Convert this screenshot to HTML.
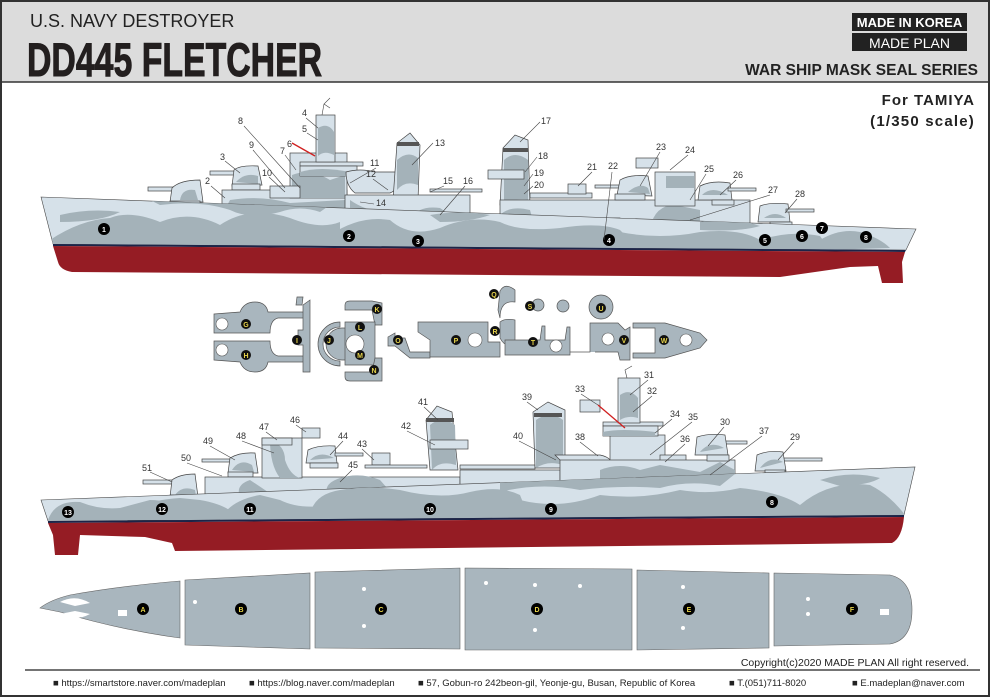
<!DOCTYPE html>
<html><head><meta charset="utf-8"><style>
html,body{margin:0;padding:0;background:#fff}
svg{display:block}
text{font-family:"Liberation Sans",sans-serif}
.l{font-size:9px;fill:#333}
.ln{stroke:#444;stroke-width:.6;fill:none}
.s{fill:#d6e1e9;stroke:#444;stroke-width:.7}
.g{fill:#a4b2b9}
.p{fill:#a9b6be;stroke:#555;stroke-width:.7}
.h{fill:#fff;stroke:#555;stroke-width:.6}
.m{font-size:7px;font-weight:bold;fill:#e8d44a;text-anchor:middle}
.w{font-size:7px;font-weight:bold;fill:#fff;text-anchor:middle}
</style></head><body>
<svg width="990" height="697" viewBox="0 0 990 697" xmlns="http://www.w3.org/2000/svg">
<rect x="0" y="0" width="990" height="697" fill="#fff"/>
<rect x="1" y="1" width="988" height="81" fill="#dcdcdc"/>
<line x1="0" y1="82" x2="990" y2="82" stroke="#333" stroke-width="1.5"/>
<text x="30" y="27" font-size="18" fill="#222">U.S. NAVY DESTROYER</text>
<text x="27" y="76" font-size="47" font-weight="bold" fill="#231f1f" stroke="#231f1f" stroke-width="1" transform="translate(27 0) scale(0.72 1) translate(-27 0)">DD445 FLETCHER</text>
<rect x="852" y="13" width="115" height="18" fill="#222"/>
<text x="909.5" y="27" font-size="13" font-weight="bold" fill="#fff" text-anchor="middle">MADE IN KOREA</text>
<rect x="852" y="33" width="115" height="18" fill="#222"/>
<text x="909.5" y="48" font-size="14" fill="#fff" text-anchor="middle">MADE PLAN</text>
<text x="978" y="75" font-size="15.5" font-weight="bold" fill="#222" text-anchor="end">WAR SHIP MASK SEAL SERIES</text>
<text x="975" y="105" font-size="15" font-weight="bold" fill="#222" text-anchor="end" letter-spacing="1">For  TAMIYA</text>
<text x="975" y="126" font-size="15" font-weight="bold" fill="#222" text-anchor="end" letter-spacing="1.2">(1/350 scale)</text>

<defs>
<clipPath id="c1"><polygon points="41,197 916,229 906,250 53,244"/></clipPath>
<clipPath id="c2"><polygon points="41,500 915,467 904,515 48,521"/></clipPath>
</defs>
<g>
<rect x="148" y="187" width="30" height="4" class="s"/>
<path d="M170,202 L172,188 Q180,180 200,180 L203,202Z" class="s"/><path d="M180,200 Q182,188 195,190 L198,200Z" class="g"/>
<rect x="170" y="201" width="30" height="4" class="s"/>
<rect x="210" y="171" width="26" height="4" class="s"/>
<path d="M232,186 L234,170 Q240,165 258,166 L262,185Z" class="s"/><path d="M236,182 Q245,172 258,176 L258,184Z" class="g"/>
<rect x="232" y="184" width="28" height="6" class="s"/>
<rect x="222" y="190" width="125" height="26" class="s"/>
<path d="M230,200 Q260,195 290,203 L345,200 L345,215 L222,215Z" class="g"/>
<rect x="290" y="153" width="57" height="45" class="s"/>
<path d="M292,175 Q310,168 330,180 L345,175 L345,198 L292,198Z" class="g"/>
<rect x="270" y="186" width="30" height="12" class="s"/>
<rect x="300" y="162" width="63" height="4" class="s"/>
<rect x="300" y="166" width="57" height="10" class="s"/>
<path d="M300,172 Q320,166 350,172 L350,176 L300,176Z" class="g"/>
<rect x="316" y="115" width="19" height="47" class="s"/>
<path d="M318,128 Q328,122 334,132 L334,155 Q324,150 318,156Z" class="g"/>
<path d="M322,115 L324,104 L330,98 M324,104 L330,108" class="ln" stroke-width="1.5"/>
<path d="M346,172 Q360,168 375,172 L400,172 Q402,188 390,193 L355,193 Q346,186 346,172Z" class="s"/>
<path d="M393,200 L397,143 L410,133 L420,145 L418,200Z" class="s"/>
<path d="M397,160 Q408,150 418,158 L418,185 Q405,180 397,190Z" class="g"/>
<rect x="397" y="142" width="22" height="4" fill="#555"/>
<rect x="345" y="195" width="125" height="23" class="s"/>
<path d="M350,200 Q370,214 395,212 L395,218 L350,218Z" class="g"/>
<path d="M410,218 Q420,205 440,208 L455,218Z" class="g"/>
<rect x="430" y="189" width="52" height="3" class="s"/>
<path d="M500,205 L503,148 L515,135 L528,140 L530,205Z" class="s"/>
<path d="M504,160 Q515,150 528,160 L528,200 Q515,198 504,205Z" class="g"/>
<rect x="503" y="148" width="25" height="4" fill="#555"/>
<rect x="488" y="170" width="36" height="9" class="s"/>
<rect x="530" y="193" width="62" height="5" class="s"/>
<rect x="568" y="184" width="18" height="10" class="s"/>
<rect x="595" y="185" width="25" height="3" class="s"/>
<rect x="500" y="200" width="250" height="28" class="s"/>
<path d="M500,215 Q510,205 530,210 L535,228 L500,228Z" class="g"/>
<path d="M650,228 Q655,205 675,205 L700,210 L700,228Z" class="g"/>
<rect x="570" y="218" width="50" height="6" class="s"/>
<path d="M617,195 L620,180 Q630,174 648,176 L652,196Z" class="s"/><path d="M628,192 Q640,182 648,188 L650,194Z" class="g"/>
<rect x="615" y="194" width="30" height="6" class="s"/>
<rect x="655" y="172" width="40" height="34" class="s"/>
<rect x="666" y="176" width="28" height="12" class="g"/>
<rect x="636" y="158" width="22" height="10" class="s"/>
<path d="M698,200 L700,186 Q712,180 730,183 L732,200Z" class="s"/><path d="M702,195 Q712,185 728,195Z" class="g"/>
<rect x="728" y="188" width="28" height="3" class="s"/>
<rect x="712" y="200" width="22" height="5" class="s"/>
<path d="M758,222 L760,206 Q770,202 788,204 L790,222Z" class="s"/><path d="M764,218 Q775,210 786,218Z" class="g"/>
<rect x="786" y="209" width="28" height="3" class="s"/>
<rect x="770" y="222" width="22" height="4" class="s"/>
</g>
<polygon points="41,197 916,229 906,250 53,244" fill="#d6e1e9" stroke="#444" stroke-width=".6"/>
<g clip-path="url(#c1)" class="g">
<path d="M50,240 Q80,220 110,218 Q130,210 160,222 Q190,210 220,225 Q250,205 290,218 Q320,230 340,222 L340,250 L50,250Z"/>
<path d="M330,235 Q360,215 390,220 Q410,238 440,228 Q470,215 500,222 Q520,232 560,228 Q600,222 620,230 L640,250 L330,250Z"/>
<path d="M560,245 Q590,228 620,232 Q660,240 700,232 Q740,228 760,240 Q790,230 820,236 L830,250 L560,250Z"/>
<path d="M820,240 Q840,228 860,232 Q880,238 890,248 L820,250Z"/>
<path d="M60,215 Q90,208 120,212 Q100,222 60,222Z"/>
<path d="M160,205 Q200,200 230,210 Q250,220 280,212 Q300,205 320,212 L330,205 L150,200Z"/>
<path d="M430,215 Q460,210 490,215 Q470,222 440,222Z"/>
<path d="M700,222 Q730,215 760,226 Q740,232 700,230Z"/>
</g>
<polygon points="53,244 906,250 905,252 53,246" fill="#1c2448"/>
<path d="M53,246 L905,252 L902,262 L903,283 L882,283 L878,266 L850,267 L780,277 L72,272 Q60,270 58,262Z" fill="#951c24"/>
<g>
<circle cx="104" cy="229" r="6"/><text x="104" y="232" class="w">1</text>
<circle cx="349" cy="236" r="6"/><text x="349" y="239" class="w">2</text>
<circle cx="418" cy="241" r="6"/><text x="418" y="244" class="w">3</text>
<circle cx="609" cy="240" r="6"/><text x="609" y="243" class="w">4</text>
<circle cx="765" cy="240" r="6"/><text x="765" y="243" class="w">5</text>
<circle cx="802" cy="236" r="6"/><text x="802" y="239" class="w">6</text>
<circle cx="822" cy="228" r="6"/><text x="822" y="231" class="w">7</text>
<circle cx="866" cy="237" r="6"/><text x="866" y="240" class="w">8</text>
</g>
<g class="l">
<text x="238" y="124">8</text><text x="249" y="148">9</text><text x="220" y="160">3</text><text x="205" y="184">2</text>
<text x="262" y="176">10</text><text x="302" y="116">4</text><text x="302" y="132">5</text><text x="287" y="147">6</text><text x="280" y="154">7</text>
<text x="370" y="166">11</text><text x="366" y="177">12</text><text x="435" y="146">13</text><text x="376" y="206">14</text>
<text x="443" y="184">15</text><text x="463" y="184">16</text><text x="541" y="124">17</text><text x="538" y="159">18</text>
<text x="534" y="176">19</text><text x="534" y="188">20</text><text x="587" y="170">21</text><text x="608" y="169">22</text>
<text x="656" y="150">23</text><text x="685" y="153">24</text><text x="704" y="172">25</text><text x="733" y="178">26</text>
<text x="768" y="193">27</text><text x="795" y="197">28</text>
</g>
<g class="ln">
<path d="M244,126 L300,188"/><path d="M253,150 L285,188"/><path d="M225,161 L240,173"/><path d="M211,186 L225,198"/>
<path d="M269,177 L285,192"/><path d="M306,118 L318,128"/><path d="M307,133 L318,140"/><path d="M285,155 L296,170"/>
<path d="M376,168 L350,183"/><path d="M373,179 L388,190"/><path d="M433,143 L412,165"/><path d="M374,204 L360,202"/>
<path d="M444,186 L430,192"/><path d="M465,186 L440,215"/><path d="M540,122 L520,142"/><path d="M537,157 L525,172"/>
<path d="M533,174 L524,186"/><path d="M533,186 L524,194"/><path d="M592,172 L578,186"/><path d="M612,172 L604,240"/>
<path d="M660,152 L640,186"/><path d="M688,155 L670,170"/><path d="M706,174 L690,200"/><path d="M736,180 L720,195"/>
<path d="M770,195 L690,220"/><path d="M797,199 L785,213"/>
</g>
<path d="M292,143 L315,156" stroke="#d02020" stroke-width="1.3"/>

<g>
<path d="M214,314 L240,312 Q244,302 255,302 Q266,302 268,312 L305,312 L305,318 L278,318 Q270,320 270,333 L214,333Z" class="p"/>
<circle cx="222" cy="324" r="6" class="h"/>
<path d="M214,341 L270,341 Q270,354 278,356 L305,356 L305,362 L268,362 Q266,372 255,372 Q244,372 240,362 L214,360Z" class="p"/>
<circle cx="222" cy="350" r="6" class="h"/>
<path d="M303,305 L310,300 L310,372 L303,372 L303,345 L298,345 L298,330 L303,330Z" class="p"/>
<path d="M297,297 L303,297 L302,305 L296,305Z" class="p"/>
<path d="M340,322 A22,22 0 0 0 340,366 L340,361 A17,17 0 0 1 340,327Z" class="p"/>
<path d="M342,328 L352,328 L352,360 L342,360 A16,16 0 0 1 342,328Z" class="p"/>
<path d="M345,305 Q345,301 350,301 L372,301 L382,303 L382,325 L375,325 L372,310 L345,310Z" class="p"/>
<path d="M345,322 L375,322 L375,365 L345,365Z" class="p"/><circle cx="355" cy="344" r="9" class="h"/>
<path d="M345,377 Q345,381 350,381 L382,381 L382,358 L375,358 L372,372 L345,372Z" class="p"/>
<path d="M388,337 L395,333 L395,338 L405,338 L410,352 L430,352 L430,358 L410,358 L395,346 L388,346Z" class="p"/>
<path d="M418,322 L488,322 L488,342 L500,342 L500,357 L430,357 L430,340 L418,332Z" class="p"/><circle cx="475" cy="340" r="7" class="h"/>
<path d="M500,291 Q505,282 515,290 L515,302 Q500,300 500,318 L498,310Z" class="p"/>
<path d="M500,322 Q505,318 515,320 L515,345 Q505,348 500,338Z" class="p"/>
<circle cx="538" cy="305" r="6" class="p"/><circle cx="563" cy="306" r="6" class="p"/><circle cx="601" cy="307" r="12" class="p"/>
<path d="M505,340 L540,340 L542,326 L545,326 L545,340 L565,340 L567,327 L570,327 L570,355 L505,355Z" class="p"/><circle cx="556" cy="346" r="6" class="h"/>
<path d="M570,352 L590,352 L590,323 L618,323 L625,330 L630,327 L630,360 L620,360 L618,352 L595,352" class="p"/><circle cx="608" cy="339" r="6" class="h"/>
<path d="M633,323 L665,323 L700,333 L707,340 L700,348 L665,358 L633,358 L633,353 L655,353 L655,328 L633,328Z" class="p"/><circle cx="686" cy="340" r="6" class="h"/>
<circle cx="246" cy="324" r="5" fill="#111"/><text x="246" y="327" class="m">G</text>
<circle cx="246" cy="355" r="5" fill="#111"/><text x="246" y="358" class="m">H</text>
<circle cx="297" cy="340" r="5" fill="#111"/><text x="297" y="343" class="m">I</text>
<circle cx="329" cy="340" r="5" fill="#111"/><text x="329" y="343" class="m">J</text>
<circle cx="377" cy="309" r="5" fill="#111"/><text x="377" y="312" class="m">K</text>
<circle cx="360" cy="327" r="5" fill="#111"/><text x="360" y="330" class="m">L</text>
<circle cx="360" cy="355" r="5" fill="#111"/><text x="360" y="358" class="m">M</text>
<circle cx="374" cy="370" r="5" fill="#111"/><text x="374" y="373" class="m">N</text>
<circle cx="398" cy="340" r="5" fill="#111"/><text x="398" y="343" class="m">O</text>
<circle cx="456" cy="340" r="5" fill="#111"/><text x="456" y="343" class="m">P</text>
<circle cx="494" cy="294" r="5" fill="#111"/><text x="494" y="297" class="m">Q</text>
<circle cx="495" cy="331" r="5" fill="#111"/><text x="495" y="334" class="m">R</text>
<circle cx="530" cy="306" r="5" fill="#111"/><text x="530" y="309" class="m">S</text>
<circle cx="533" cy="342" r="5" fill="#111"/><text x="533" y="345" class="m">T</text>
<circle cx="601" cy="308" r="5" fill="#111"/><text x="601" y="311" class="m">U</text>
<circle cx="624" cy="340" r="5" fill="#111"/><text x="624" y="343" class="m">V</text>
<circle cx="664" cy="340" r="5" fill="#111"/><text x="664" y="343" class="m">W</text>
</g>

<g>
<rect x="143" y="480" width="30" height="4" class="s"/>
<path d="M170,497 L172,480 Q180,474 195,474 L198,497Z" class="s"/><path d="M175,495 Q182,485 195,490 L196,496Z" class="g"/>
<rect x="170" y="495" width="25" height="5" class="s"/>
<rect x="202" y="459" width="30" height="3" class="s"/>
<path d="M228,473 L230,458 Q240,452 255,453 L258,473Z" class="s"/><path d="M232,470 Q240,458 252,465 L254,472Z" class="g"/>
<rect x="228" y="472" width="25" height="5" class="s"/>
<rect x="205" y="477" width="255" height="20" class="s"/>
<path d="M240,497 Q235,485 250,480 L265,490 L275,497Z" class="g"/>
<path d="M330,497 Q320,485 340,478 Q360,472 380,480 L395,497Z" class="g"/>
<rect x="262" y="438" width="40" height="40" class="s"/>
<path d="M270,440 Q285,445 285,460 Q290,475 300,478 L280,478 Q270,465 270,440Z" class="g"/>
<rect x="262" y="438" width="30" height="7" class="s"/>
<rect x="302" y="428" width="18" height="10" class="s"/>
<path d="M306,463 L308,450 Q318,445 335,446 L337,463Z" class="s"/><path d="M310,460 Q320,450 334,458Z" class="g"/>
<rect x="335" y="453" width="28" height="3" class="s"/>
<rect x="310" y="463" width="28" height="5" class="s"/>
<rect x="372" y="453" width="18" height="12" class="s"/>
<rect x="365" y="465" width="62" height="3" class="s"/>
<path d="M430,470 L426,420 L437,406 L452,412 L458,470Z" class="s"/>
<path d="M430,425 Q442,415 455,425 L456,465 Q440,460 432,470Z" class="g"/>
<rect x="426" y="418" width="28" height="4" fill="#555"/>
<rect x="430" y="440" width="38" height="9" class="s"/>
<rect x="460" y="465" width="75" height="4" class="s"/>
<rect x="460" y="470" width="100" height="25" class="s"/>
<path d="M535,468 L533,412 L548,402 L565,410 L565,468Z" class="s"/>
<path d="M536,420 Q550,410 563,420 L563,465 Q548,460 536,468Z" class="g"/>
<rect x="534" y="413" width="28" height="4" fill="#555"/>
<path d="M555,455 L600,455 Q615,458 612,470 L570,470Z" class="s"/>
<rect x="610" y="435" width="55" height="35" class="s"/>
<rect x="603" y="422" width="60" height="4" class="s"/>
<rect x="603" y="426" width="55" height="10" class="s"/>
<path d="M603,432 Q620,428 655,432 L655,436 L603,436Z" class="g"/>
<rect x="618" y="378" width="22" height="45" class="s"/>
<path d="M620,395 Q630,388 638,398 L638,418 Q628,415 620,420Z" class="g"/>
<path d="M627,378 L625,370 L632,366" class="ln" stroke-width="1.5"/>
<rect x="580" y="400" width="20" height="12" class="s"/>
<rect x="660" y="455" width="26" height="11" class="s"/>
<rect x="560" y="460" width="175" height="32" class="s"/>
<path d="M600,470 Q620,462 640,470 L660,465 L700,472 L720,462 L735,470 L735,492 L600,492Z" class="g"/>
<rect x="707" y="441" width="40" height="3" class="s"/>
<path d="M695,455 L697,437 Q710,433 725,435 L728,455Z" class="s"/><path d="M700,452 Q710,440 724,448Z" class="g"/>
<rect x="707" y="455" width="22" height="6" class="s"/>
<rect x="780" y="458" width="42" height="3" class="s"/>
<path d="M755,471 L757,455 Q768,450 783,452 L786,471Z" class="s"/><path d="M760,468 Q770,455 783,462Z" class="g"/>
<rect x="765" y="470" width="20" height="5" class="s"/>
</g>
<polygon points="41,500 915,467 904,515 48,521" fill="#d6e1e9" stroke="#444" stroke-width=".6"/>
<g clip-path="url(#c2)" class="g">
<path d="M48,520 Q55,500 80,502 Q100,510 120,508 L150,500 Q180,500 185,520Z"/>
<path d="M125,520 Q140,500 180,498 L200,500 Q230,505 240,520Z"/>
<path d="M220,520 Q230,500 260,495 L280,500 Q300,510 330,505 Q340,512 330,520Z"/>
<path d="M310,520 Q310,495 340,490 Q370,485 400,490 Q440,500 470,492 Q500,485 520,495 L530,520Z"/>
<path d="M490,520 Q505,505 520,500 Q560,510 600,495 Q640,500 680,490 Q710,495 740,488 Q780,492 800,505 Q830,480 870,485 Q890,495 905,515Z"/>
<path d="M500,492 Q540,482 580,490 Q620,485 660,488 Q690,480 720,486 L740,470 L500,480Z"/>
<path d="M820,480 Q850,470 880,478 Q870,485 840,486Z"/>
</g>
<polygon points="48,521 904,515 904,517 48,523" fill="#1c2448"/>
<path d="M48,523 L904,517 Q902,538 892,543 L175,551 L172,543 L145,537 L80,535 L78,555 L55,555 L53,535Z" fill="#951c24"/>
<g>
<circle cx="68" cy="512" r="6"/><text x="68" y="515" class="w">13</text>
<circle cx="162" cy="509" r="6"/><text x="162" y="512" class="w">12</text>
<circle cx="250" cy="509" r="6"/><text x="250" y="512" class="w">11</text>
<circle cx="430" cy="509" r="6"/><text x="430" y="512" class="w">10</text>
<circle cx="551" cy="509" r="6"/><text x="551" y="512" class="w">9</text>
<circle cx="772" cy="502" r="6"/><text x="772" y="505" class="w">8</text>
</g>
<g class="l">
<text x="142" y="471">51</text><text x="181" y="461">50</text><text x="203" y="444">49</text><text x="236" y="439">48</text>
<text x="259" y="430">47</text><text x="290" y="423">46</text><text x="338" y="439">44</text><text x="357" y="447">43</text>
<text x="348" y="468">45</text><text x="401" y="429">42</text><text x="418" y="405">41</text><text x="522" y="400">39</text>
<text x="513" y="439">40</text><text x="575" y="440">38</text><text x="575" y="392">33</text><text x="644" y="378">31</text>
<text x="647" y="394">32</text><text x="670" y="417">34</text><text x="688" y="420">35</text><text x="680" y="442">36</text>
<text x="720" y="425">30</text><text x="759" y="434">37</text><text x="790" y="440">29</text>
</g>
<g class="ln">
<path d="M150,472 L172,482"/><path d="M187,463 L222,476"/><path d="M210,446 L235,460"/><path d="M242,441 L274,453"/>
<path d="M266,432 L277,440"/><path d="M296,425 L306,432"/><path d="M343,441 L330,455"/><path d="M362,449 L374,460"/>
<path d="M352,470 L340,482"/><path d="M407,431 L435,445"/><path d="M424,407 L438,420"/><path d="M527,402 L538,410"/>
<path d="M519,441 L556,460"/><path d="M580,442 L598,456"/><path d="M581,394 L598,405"/><path d="M648,380 L630,395"/>
<path d="M652,396 L633,412"/><path d="M672,419 L655,433"/><path d="M692,422 L650,455"/><path d="M685,444 L665,462"/>
<path d="M724,427 L708,446"/><path d="M762,436 L710,475"/><path d="M794,442 L778,460"/>
</g>
<path d="M598,405 L625,428" stroke="#d02020" stroke-width="1.3"/>

<g fill="#a9b6be" stroke="#666" stroke-width=".6">
<path d="M180,581 L180,638 Q120,630 60,612 Q45,609 40,608 Q50,600 70,595 Q120,586 180,581Z"/>
<path d="M185,580 L310,573 L310,649 L185,645Z"/>
<path d="M315,572 L460,568 L460,649 L315,648Z"/>
<path d="M465,568 L632,569 L632,650 L465,650Z"/>
<path d="M637,570 L769,573 L769,648 L637,650Z"/>
<path d="M774,573 L890,575 Q912,580 912,610 Q912,640 890,644 L774,646Z"/>
</g>
<g fill="#fff">
<rect x="118" y="610" width="9" height="6"/><rect x="880" y="609" width="9" height="6"/>
<circle cx="195" cy="602" r="2"/><circle cx="364" cy="589" r="2"/><circle cx="364" cy="626" r="2"/>
<circle cx="486" cy="583" r="2"/><circle cx="535" cy="585" r="2"/><circle cx="580" cy="586" r="2"/><circle cx="535" cy="630" r="2"/>
<circle cx="683" cy="587" r="2"/><circle cx="683" cy="628" r="2"/><circle cx="808" cy="599" r="2"/><circle cx="808" cy="614" r="2"/>
<path d="M60,602 Q75,594 90,603 L75,606Z"/><path d="M60,614 Q75,622 90,614 L75,611Z"/>
</g>
<g>
<circle cx="143" cy="609" r="6"/><text x="143" y="612" class="m">A</text>
<circle cx="241" cy="609" r="6"/><text x="241" y="612" class="m">B</text>
<circle cx="381" cy="609" r="6"/><text x="381" y="612" class="m">C</text>
<circle cx="537" cy="609" r="6"/><text x="537" y="612" class="m">D</text>
<circle cx="689" cy="609" r="6"/><text x="689" y="612" class="m">E</text>
<circle cx="852" cy="609" r="6"/><text x="852" y="612" class="m">F</text>
</g>

<text x="969" y="666" font-size="10.5" fill="#222" text-anchor="end">Copyright(c)2020 MADE PLAN All right reserved.</text>
<line x1="25" y1="670" x2="980" y2="670" stroke="#222" stroke-width="1.2"/>
<g font-size="9.5" fill="#222">
<text x="53" y="686">■ https://smartstore.naver.com/madeplan</text>
<text x="249" y="686">■ https://blog.naver.com/madeplan</text>
<text x="418" y="686">■ 57, Gobun-ro 242beon-gil, Yeonje-gu, Busan, Republic of Korea</text>
<text x="729" y="686">■ T.(051)711-8020</text>
<text x="852" y="686">■ E.madeplan@naver.com</text>
</g>
<rect x="1" y="1" width="988" height="695" fill="none" stroke="#333" stroke-width="2"/>
</svg>
</body></html>
